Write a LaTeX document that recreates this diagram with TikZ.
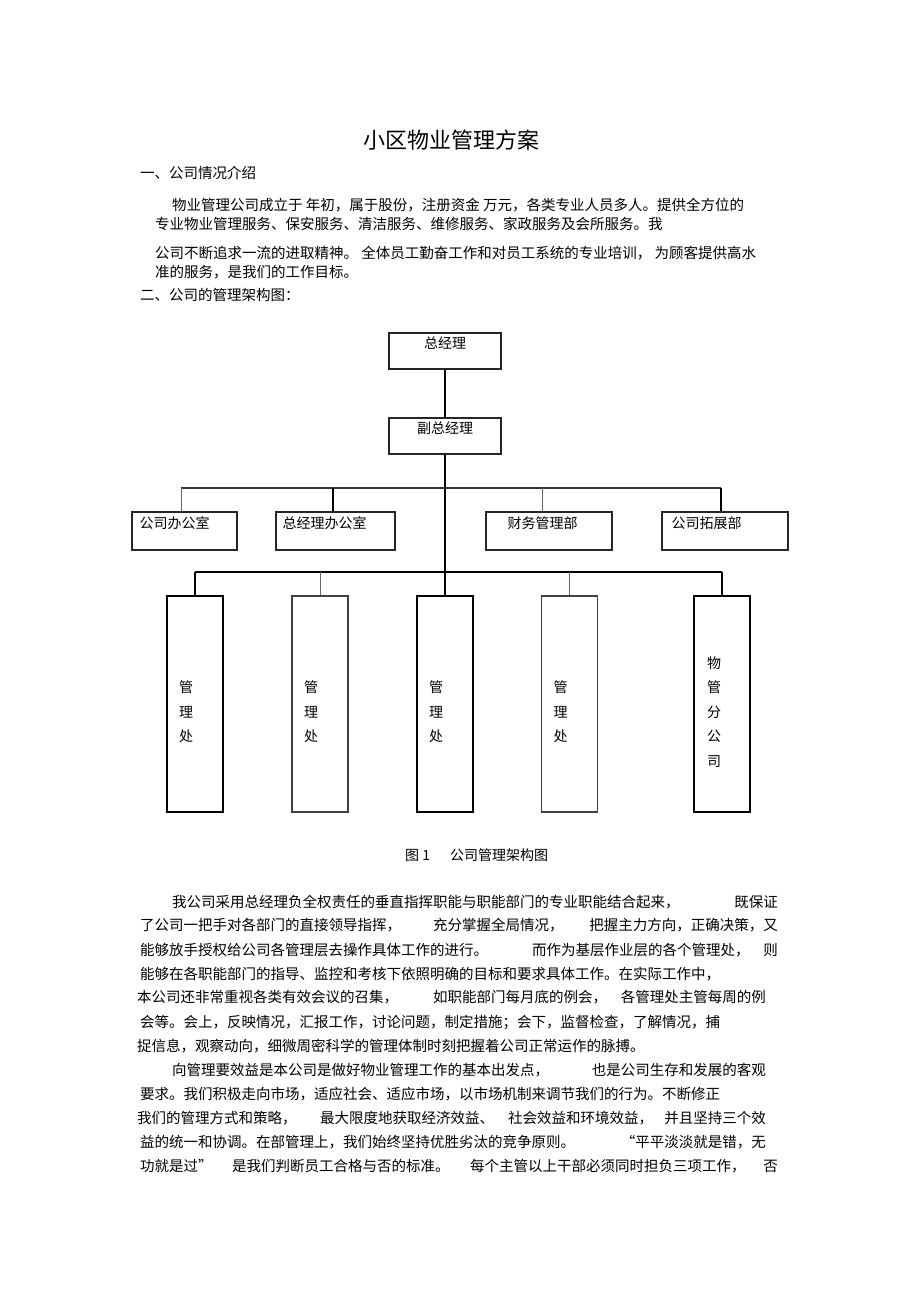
\documentclass[tikz,border=0pt]{standalone}
\usepackage{fontspec}
\setmainfont{Noto Sans CJK SC}
\usetikzlibrary{positioning}

\newcommand\bodyfont{\fontsize{14.5}{17}\selectfont}
\newcommand\titlefont{\fontsize{22}{26}\selectfont}
\newcommand\chartfont{\fontsize{14}{16}\selectfont}
\newcommand\vertfont{\fontsize{14}{24.5}\selectfont}

\begin{document}
\begin{tikzpicture}[x=1pt,y=-1pt,
    unit/.style={draw=black!85, line width=1.3pt, minimum height=36pt, inner sep=0pt},
    post/.style={draw, line width=2.2pt, minimum width=56pt, minimum height=216pt, inner sep=0pt},
    postthin/.style={post, draw=black!75, line width=1.2pt},
    boxtext/.style={inner sep=0pt, font=\chartfont},
    vtext/.style={inner sep=0pt, align=center, font=\vertfont},
    trunk/.style={line width=2pt},
    bus/.style={draw=black!80, line width=1.2pt},
    twig/.style={draw=black!60, line width=1pt},
    para/.style={anchor=base west, inner sep=0pt, font=\bodyfont},
    parar/.style={anchor=base east, inner sep=0pt, font=\bodyfont}]
    \fill[white] (0,0) rectangle (920,1303);
    \useasboundingbox (0,0) rectangle (920,1303);

    % heading and first section
    \node[anchor=base, inner sep=0pt, font=\titlefont] (title) at (451,148) {小区物业管理方案};
    \node[para] (h1) at (140,178.5) {一、公司情况介绍};
    \node[para] (p1) at (172,210.5) {物业管理公司成立于 年初，属于股份，注册资金 万元，各类专业人员多人。提供全方位的};
    \node[para] (p2) at (155,229.5) {专业物业管理服务、保安服务、清洁服务、维修服务、家政服务及会所服务。我};
    \node[para] (p3) at (155,258.5) {公司不断追求一流的进取精神。 全体员工勤奋工作和对员工系统的专业培训， 为顾客提供高水};
    \node[para] (p4) at (155,277.5) {准的服务，是我们的工作目标。};
    \node[para] (h2) at (140,300.5) {二、公司的管理架构图：};

    % management boxes
    \node[unit, minimum width=112pt] (gm) at (445,351) {};
    \node[boxtext, below=4.5pt of gm.north] (gmt) {总经理};
    \node[unit, minimum width=112pt] (dgm) at (445,436) {};
    \node[boxtext, below=4.5pt of dgm.north] (dgmt) {副总经理};

    \node[unit, minimum width=105pt, minimum height=38pt] (off1) at (184.5,531) {};
    \node[boxtext, below right=5pt and 8pt of off1.north west] (off1t) {公司办公室};
    \node[unit, minimum width=119pt, minimum height=38pt] (off2) at (335.5,531) {};
    \node[boxtext, below right=5pt and 7pt of off2.north west] (off2t) {总经理办公室};
    \node[unit, minimum width=126pt, minimum height=38pt] (off3) at (549,531) {};
    \node[boxtext, below right=5pt and 22pt of off3.north west] (off3t) {财务管理部};
    \node[unit, minimum width=126pt, minimum height=38pt] (off4) at (725,531) {};
    \node[boxtext, below right=5pt and 10pt of off4.north west] (off4t) {公司拓展部};

    \node[post] (v1) at (195,704) {};
    \node[postthin] (v2) at (320,704) {};
    \node[post] (v3) at (445,704) {};
    \node[postthin] (v4) at (569.5,704) {};
    \node[post] (v5) at (722,704) {};
    \node[vtext] (v1t) at ([xshift=-9pt,yshift=-8pt]v1.center) {管\\理\\处};
    \node[vtext] (v2t) at ([xshift=-9pt,yshift=-8pt]v2.center) {管\\理\\处};
    \node[vtext] (v3t) at ([xshift=-9pt,yshift=-8pt]v3.center) {管\\理\\处};
    \node[vtext] (v4t) at ([xshift=-9pt,yshift=-8pt]v4.center) {管\\理\\处};
    \node[vtext] (v5t) at ([xshift=-8pt,yshift=-8pt]v5.center) {物\\管\\分\\公\\司};

    % connectors
    \coordinate (u1) at (181,488);
    \coordinate (u2) at (333,488);
    \coordinate (u3) at (542,488);
    \coordinate (u4) at (721,488);
    \coordinate (l1) at (195,572);
    \coordinate (l2) at (320,572);
    \coordinate (l4) at (569.5,572);
    \coordinate (l5) at (722,572);
    \draw[trunk] (gm) -- (dgm);
    \draw[trunk] (dgm) -- (v3);
    \draw[bus] (u1) -- (u4);
    \draw[twig] (u1) -- (u1 |- off1.north);
    \draw[trunk] (u2) -- (u2 |- off2.north);
    \draw[twig] (u3) -- (u3 |- off3.north);
    \draw[trunk] (u4) -- (u4 |- off4.north);
    \draw[trunk, line width=1.8pt] (l1) -- (l5);
    \draw[trunk] (l1) -- (v1);
    \draw[twig] (l2) -- (v2);
    \draw[twig] (l4) -- (v4);
    \draw[trunk] (l5) -- (v5);

    \node[anchor=base west, inner sep=0pt, font=\chartfont] (cap1) at (405,860) {图 1};
    \node[anchor=base west, inner sep=0pt, font=\chartfont] (cap2) at (450,860) {公司管理架构图};

    % body text
    \node[para] (b1a) at (172,907.5) {我公司采用总经理负全权责任的垂直指挥职能与职能部门的专业职能结合起来，};
    \node[parar] (b1b) at (778,907.5) {既保证};
    \node[para] (b2a) at (140,930.5) {了公司一把手对各部门的直接领导指挥，};
    \node[para] (b2b) at (433,930.5) {充分掌握全局情况，};
    \node[parar] (b2c) at (778,930.5) {把握主力方向，正确决策，又};
    \node[para] (b3a) at (140,955.5) {能够放手授权给公司各管理层去操作具体工作的进行。};
    \node[para] (b3b) at (532,955.5) {而作为基层作业层的各个管理处，};
    \node[parar] (b3c) at (778,955.5) {则};
    \node[para] (b4) at (140,979.5) {能够在各职能部门的指导、监控和考核下依照明确的目标和要求具体工作。在实际工作中，};
    \node[para] (b5a) at (137,1002.5) {本公司还非常重视各类有效会议的召集，};
    \node[para] (b5b) at (433,1002.5) {如职能部门每月底的例会，};
    \node[parar] (b5c) at (766,1002.5) {各管理处主管每周的例};
    \node[para] (b6) at (140,1027.5) {会等。会上，反映情况，汇报工作，讨论问题，制定措施；会下，监督检查，了解情况，捕};
    \node[para] (b7) at (137,1051.5) {捉信息，观察动向，细微周密科学的管理体制时刻把握着公司正常运作的脉搏。};
    \node[para] (b8a) at (172,1075.5) {向管理要效益是本公司是做好物业管理工作的基本出发点，};
    \node[parar] (b8b) at (766,1075.5) {也是公司生存和发展的客观};
    \node[para] (b9) at (140,1099.5) {要求。我们积极走向市场，适应社会、适应市场，以市场机制来调节我们的行为。不断修正};
    \node[para] (b10a) at (137,1123.5) {我们的管理方式和策略，};
    \node[para] (b10b) at (320,1123.5) {最大限度地获取经济效益、};
    \node[para] (b10c) at (508,1123.5) {社会效益和环境效益，};
    \node[parar] (b10d) at (766,1123.5) {并且坚持三个效};
    \node[para] (b11a) at (140,1147.5) {益的统一和协调。在部管理上，我们始终坚持优胜劣汰的竞争原则。};
    \node[parar] (b11b) at (766,1147.5) {“平平淡淡就是错，无};
    \node[para] (b12a) at (140,1171.5) {功就是过”};
    \node[para] (b12b) at (232,1171.5) {是我们判断员工合格与否的标准。};
    \node[para] (b12c) at (470,1171.5) {每个主管以上干部必须同时担负三项工作，};
    \node[parar] (b12d) at (778,1171.5) {否};
\end{tikzpicture}
\end{document}
